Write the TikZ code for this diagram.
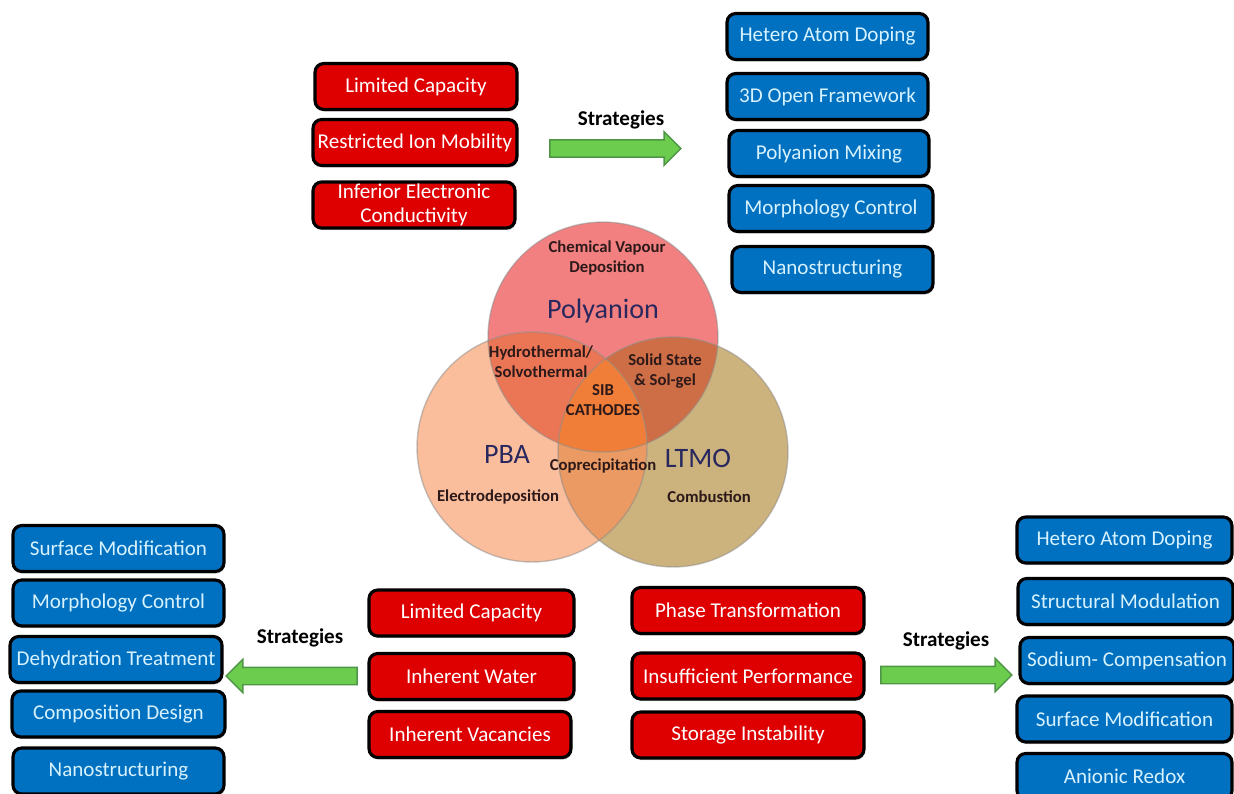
\documentclass[tikz,border=0pt]{standalone}
\usepackage{fontspec}
\setmainfont{Carlito}
\usetikzlibrary{shapes.arrows,shadows}

\definecolor{boxred}{RGB}{222,0,0}
\definecolor{boxblue}{RGB}{0,112,192}
\definecolor{bluetext}{RGB}{215,242,255}
\definecolor{arrowgreen}{RGB}{108,204,78}
\definecolor{arrowline}{RGB}{78,150,70}
\definecolor{polyfill}{RGB}{242,128,128}
\definecolor{pbafill}{RGB}{250,190,156}
\definecolor{ltmofill}{RGB}{204,178,124}
\definecolor{polypba}{RGB}{234,118,86}
\definecolor{polyltmo}{RGB}{206,110,70}
\definecolor{pbaltmo}{RGB}{234,154,98}
\definecolor{allthree}{RGB}{240,126,56}
\definecolor{navytext}{RGB}{40,40,95}
\definecolor{labeltext}{RGB}{45,25,25}

\begin{document}
\begin{tikzpicture}[x=0.02cm,y=-0.02cm,
  problem/.style={draw=black, line width=1.8pt, rounded corners=5pt, fill=boxred,
    text=white, font=\fontsize{12}{14}\selectfont, minimum height=0.92cm,
    inner sep=1pt, align=center,
    drop shadow={shadow xshift=0.6pt, shadow yshift=-1.2pt, opacity=0.35}},
  remedy/.style={problem, fill=boxblue, text=bluetext},
  bigarrow/.style={single arrow, draw=arrowline, fill=arrowgreen, line width=0.8pt,
    inner sep=0pt, inner ysep=0.16cm, single arrow head extend=0.16cm,
    single arrow tip angle=90, minimum height=2.62cm},
  stratlabel/.style={font=\fontsize{12}{14}\selectfont\bfseries},
  bigname/.style={text=navytext, font=\fontsize{16}{18}\selectfont},
  synth/.style={text=labeltext, align=center, font=\fontsize{9.5}{11.3}\selectfont\bfseries},
  circline/.style={draw=black!45, draw opacity=0.5, line width=0.8pt}]
\useasboundingbox (0,0) rectangle (1234,794);

% Venn circles
\coordinate (cPoly) at (603,337);
\coordinate (cPba) at (532,447);
\coordinate (cLtmo) at (673,452);
\fill[polyfill] (cPoly) circle (2.3cm);
\fill[pbafill] (cPba) circle (2.3cm);
\fill[ltmofill] (cLtmo) circle (2.3cm);
\begin{scope}
  \clip (cPoly) circle (2.3cm);
  \fill[polypba] (cPba) circle (2.3cm);
  \fill[polyltmo] (cLtmo) circle (2.3cm);
\end{scope}
\begin{scope}
  \clip (cPba) circle (2.3cm);
  \fill[pbaltmo] (cLtmo) circle (2.3cm);
  \clip (cPoly) circle (2.3cm);
  \fill[allthree] (cLtmo) circle (2.3cm);
\end{scope}
\draw[circline] (cPoly) circle (2.3cm);
\draw[circline] (cPba) circle (2.3cm);
\draw[circline] (cLtmo) circle (2.3cm);

% Labels inside the circles
\node[synth] (cvd) at (607,258) {Chemical Vapour\\Deposition};
\node[bigname] (poly) at (603,311) {Polyanion};
\node[synth] (hydro) at (541,362) {Hydrothermal/\\Solvothermal};
\node[synth] (solid) at (665,371) {Solid State\\\& Sol-gel};
\node[synth] (sib) at (603,400) {SIB\\CATHODES};
\node[bigname] (pba) at (507,454) {PBA};
\node[synth] (copre) at (603,466) {Coprecipitation};
\node[bigname] (ltmo) at (698,458) {LTMO};
\node[synth] (electro) at (498,497) {Electrodeposition};
\node[synth] (combus) at (709,497) {Combustion};

% Polyanion: problems and strategies
\node[problem, minimum width=4.04cm] (pc1) at (416,86.5) {Limited Capacity};
\node[problem, minimum width=4.08cm] (pc2) at (415,142.5) {Restricted Ion Mobility};
\node[problem, minimum width=4.04cm] (pc3) at (414,205) {Inferior Electronic\\Conductivity};
\node[stratlabel] (stTop) at (621,120) {Strategies};
\node[bigarrow] (arrTop) at (611,148.5) {};
\node[remedy, minimum width=4.02cm] (ps1) at (827.5,36.5) {Hetero Atom Doping};
\node[remedy, minimum width=4.02cm] (ps2) at (827.5,96.5) {3D Open Framework};
\node[remedy, minimum width=4.0cm] (ps3) at (829,153.5) {Polyanion Mixing};
\node[remedy, minimum width=4.08cm] (ps4) at (831,208.5) {Morphology Control};
\node[remedy, minimum width=4.02cm] (ps5) at (832.5,269.5) {Nanostructuring};

% PBA: problems and strategies
\node[problem, minimum width=4.1cm] (bp1) at (471.5,613) {Limited Capacity};
\node[problem, minimum width=4.1cm] (bp2) at (471.5,676.5) {Inherent Water};
\node[problem, minimum width=4.04cm] (bp3) at (470,734.5) {Inherent Vacancies};
\node[stratlabel] (stLeft) at (300,638) {Strategies};
\node[bigarrow, shape border rotate=180] (arrLeft) at (296,676) {};
\node[remedy, minimum width=4.22cm] (bs1) at (118.5,548.5) {Surface Modification};
\node[remedy, minimum width=4.22cm] (bs2) at (118.5,603) {Morphology Control};
\node[remedy, minimum width=4.24cm] (bs3) at (116,659.5) {Dehydration Treatment};
\node[remedy, minimum width=4.26cm] (bs4) at (118.5,714) {Composition Design};
\node[remedy, minimum width=4.22cm] (bs5) at (118.5,771) {Nanostructuring};

% LTMO: problems and strategies
\node[problem, minimum width=4.64cm] (lp1) at (748,610.5) {Phase Transformation};
\node[problem, minimum width=4.64cm] (lp2) at (748,676) {Insufficient Performance};
\node[problem, minimum width=4.64cm] (lp3) at (748,735) {Storage Instability};
\node[stratlabel] (stRight) at (946,641) {Strategies};
\node[bigarrow] (arrRight) at (942,675) {};
\node[remedy, minimum width=4.3cm] (ls1) at (1124.5,540) {Hetero Atom Doping};
\node[remedy, minimum width=4.3cm] (ls2) at (1125.5,601.5) {Structural Modulation};
\node[remedy, minimum width=4.28cm] (ls3) at (1127,660.5) {Sodium- Compensation};
\node[remedy, minimum width=4.3cm] (ls4) at (1124.5,719) {Surface Modification};
\node[remedy, minimum width=4.3cm] (ls5) at (1124.5,776.5) {Anionic Redox};
\end{tikzpicture}
\end{document}
